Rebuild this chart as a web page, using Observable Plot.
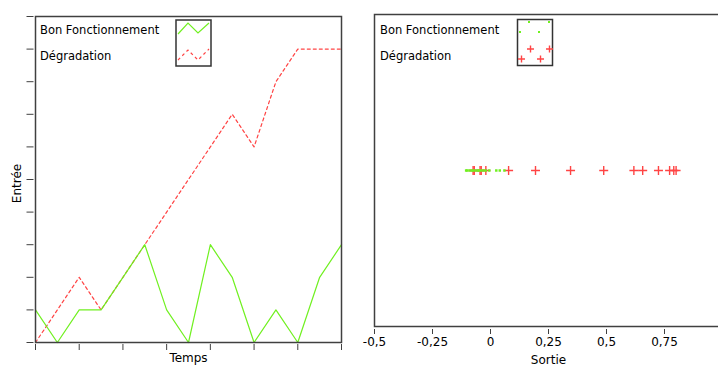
<!DOCTYPE html>
<html><head><meta charset="utf-8">
<script src="https://cdn.jsdelivr.net/npm/d3@7"></script>
<script src="https://cdn.jsdelivr.net/npm/@observablehq/plot@0.6"></script>
<style>
html,body{margin:0;padding:0;background:#fff;overflow:hidden;width:718px;height:367px;}
#wrap{position:relative;width:718px;height:367px;overflow:hidden;font-family:"DejaVu Sans",sans-serif;}
#left{position:absolute;left:0;top:0;width:360px;height:367px;}
#right{position:absolute;left:360px;top:0;width:363px;height:367px;}
#left svg,#right svg{max-width:none !important;display:block;}
#legend{position:absolute;left:0;top:0;pointer-events:none;}
</style></head><body>
<div id="wrap"><div id="left"></div><div id="right"></div>
<svg id="legend" width="718" height="367" font-family="DejaVu Sans, sans-serif" font-size="11.5">
  <text x="40" y="34">Bon Fonctionnement</text>
  <text x="40" y="59.5">Dégradation</text>
  <rect x="176" y="20" width="35" height="46" fill="none" stroke="#333" stroke-width="1.5"/>
  <polyline points="178,34 188,23 198,33 209,23" fill="none" stroke="#70f020" stroke-width="1.2"/>
  <polyline points="178,60 188,50 198,60 209,49" fill="none" stroke="#ff4444" stroke-width="1.2" stroke-dasharray="3,3"/>
  <text x="380" y="34">Bon Fonctionnement</text>
  <text x="380" y="59.5">Dégradation</text>
  <rect x="517.5" y="19.5" width="35" height="46" fill="none" stroke="#333" stroke-width="1.5"/>
  <g fill="#70f020">
    <rect x="528" y="21" width="2" height="2"/><rect x="548" y="21" width="2" height="2"/>
    <rect x="519" y="31" width="2" height="2"/><rect x="538" y="31" width="2" height="2"/>
  </g>
  <g stroke="#ff4444" stroke-width="1.4">
    <path d="M527,49h7M530.5,45.5v7"/><path d="M546,49h7M549.5,45.5v7"/>
    <path d="M518,59h7M521.5,55.5v7"/><path d="M537,59h7M540.5,55.5v7"/>
  </g>
</svg>
</div>
<script>
const temps = [0,1,2,3,4,5,6,7,8,9,10,11,12,13,14];
const bonFonctionnement = [1,0,1,1,2,3,1,0,3,2,0,1,0,2,3];
const degradation = [0,1,2,1,2,3,4,5,6,7,6,8,9,9,9];
const sortieBon = [-0.105,-0.1,-0.09,-0.08,-0.075,-0.065,-0.055,-0.05,-0.04,-0.03,-0.02,-0.005,0.025,0.04,0.06];
const sortieDegradation = [-0.075,-0.07,-0.045,-0.04,-0.02,0.078,0.194,0.345,0.488,0.618,0.656,0.724,0.772,0.79,0.8];
const tempsTicks = [0,2,4,6,8,10,12,14];
const entreeTicks = [0,1,2,3,4,5,6,7,8,9,10];
const sortieTicks = [-0.5,-0.25,0,0.25,0.5,0.75];
const labels = {x1: "Temps", y1: "Entrée", x2: "Sortie"};

const green = "#70f020", red = "#ff4444", frameColor = "#404040";
const baseStyle = {fontFamily: "DejaVu Sans, sans-serif", fontSize: "12px", background: "transparent", color: "#000", overflow: "visible"};

const leftData = temps.map((t, i) => ({t, bon: bonFonctionnement[i], deg: degradation[i]}));

const left = Plot.plot({
  width: 360, height: 367,
  marginLeft: 35, marginRight: 19, marginTop: 16, marginBottom: 25,
  style: baseStyle,
  x: {domain: [0, 14], label: null},
  y: {domain: [0, 10], label: null},
  marks: [
    Plot.axisY({ticks: entreeTicks, tickFormat: () => "", tickSize: 7, dx: -1.5, stroke: frameColor, label: null}),
    Plot.axisX({ticks: tempsTicks, tickFormat: () => "", tickSize: 6, dy: 2, stroke: frameColor, label: null}),
    Plot.line(leftData, {x: "t", y: "deg", stroke: red, strokeWidth: 1.2, strokeDasharray: "3,3"}),
    Plot.line(leftData, {x: "t", y: "bon", stroke: green, strokeWidth: 1.2}),
    Plot.frame({stroke: frameColor, strokeWidth: 1.5}),
    Plot.text([labels.x1], {frameAnchor: "bottom", lineAnchor: "middle", dy: 16, fontSize: 12}),
    Plot.text([labels.y1], {frameAnchor: "left", textAnchor: "middle", lineAnchor: "middle", dx: -18, dy: 4, rotate: -90, fontSize: 12})
  ]
});
document.getElementById("left").appendChild(left);

const bonPts = sortieBon.map(v => ({x: v, y: 0}));
const degPts = sortieDegradation.map(v => ({x: v, y: 0}));
const right = Plot.plot({
  width: 363, height: 367,
  marginLeft: 14, marginRight: 1, marginTop: 14, marginBottom: 41,
  style: baseStyle,
  x: {domain: [-0.5, 1], label: null},
  y: {domain: [-1, 1], axis: null},
  marks: [
    Plot.axisX({ticks: sortieTicks, tickFormat: d => String(d).replace(".", ","), tickSize: 5, tickPadding: 3, dy: 3, stroke: frameColor, label: null}),
    Plot.dot(degPts, {x: "x", y: "y", symbol: "plus", r: 3, stroke: red, strokeWidth: 1.4}),
    Plot.dot(bonPts, {x: "x", y: "y", symbol: "square", r: 1.4, fill: green, stroke: null}),
    Plot.frame({stroke: frameColor, strokeWidth: 1.5}),
    Plot.text([labels.x2], {frameAnchor: "bottom", lineAnchor: "middle", dy: 33.5, fontSize: 12})
  ]
});
document.getElementById("right").appendChild(right);
</script>
</body></html>
